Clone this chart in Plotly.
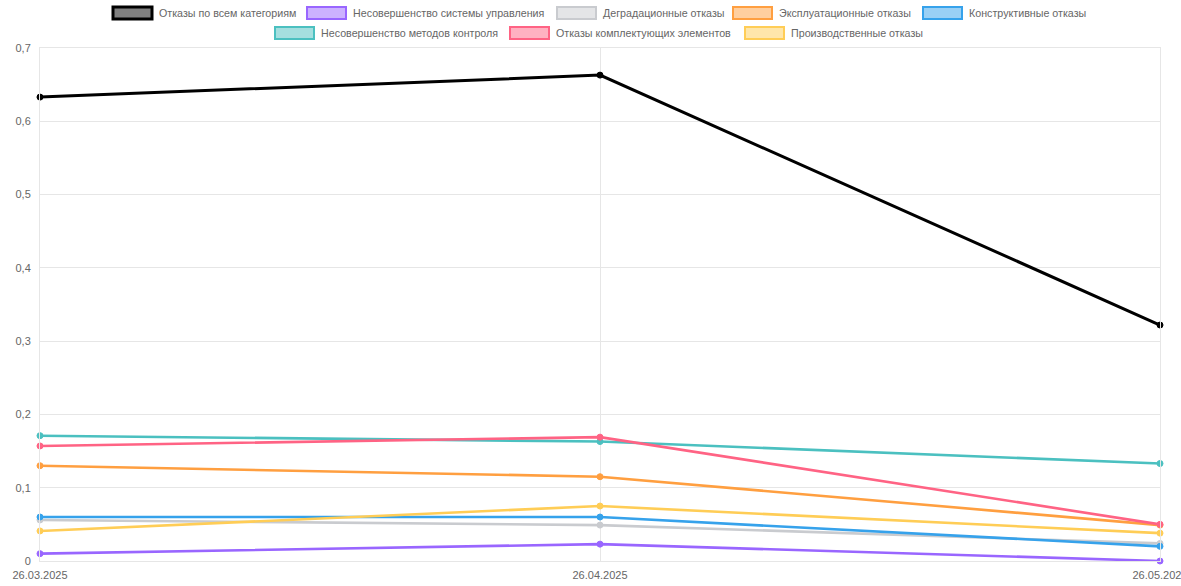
import plotly.graph_objects as go

dates = ["26.03.2025", "26.04.2025", "26.05.2025"]

series_names = [
    "Отказы по всем категориям",
    "Несовершенство системы управления",
    "Деградационные отказы",
    "Эксплуатационные отказы",
    "Конструктивные отказы",
    "Несовершенство методов контроля",
    "Отказы комплектующих элементов",
    "Производственные отказы",
]

all_categories = [0.633, 0.663, 0.322]
control_system = [0.010, 0.023, 0.000]
degradation = [0.056, 0.049, 0.024]
operational = [0.130, 0.115, 0.049]
design = [0.060, 0.060, 0.020]
control_methods = [0.171, 0.163, 0.133]
components = [0.157, 0.169, 0.050]
production = [0.041, 0.075, 0.038]

series_values = [all_categories, control_system, degradation, operational,
                 design, control_methods, components, production]

colors = [(0, 0, 0), (153, 102, 255), (201, 203, 207), (255, 159, 64),
          (54, 162, 235), (75, 192, 192), (255, 99, 132), (255, 205, 86)]

W, H = 1181, 586
L, R, T, B = 40, 21, 48, 25
PW, PH = W - L - R, H - T - B

def px_x(px):
    return (px - L) / PW

def px_y(py):
    return (H - B - py) / PH

fig = go.Figure()

# draw coloured series first, black total on top
order = list(range(1, len(series_names))) + [0]
for i in order:
    r, g, b = colors[i]
    col = f"rgb({r},{g},{b})"
    fig.add_trace(go.Scatter(
        x=dates, y=series_values[i], name=series_names[i],
        mode="lines+markers",
        line=dict(color=col, width=3 if i == 0 else 2.6),
        marker=dict(size=6, color=col, line=dict(color=col, width=1)),
        cliponaxis=False, showlegend=False,
    ))

# Chart.js-style legend: boxes + labels
legend_rows = [
    ([0, 1, 2, 3, 4], [113, 307, 557, 733, 923], 13),
    ([5, 6, 7], [275, 510, 745], 33),
]
shapes = []
annotations = []
for idxs, xs, yc in legend_rows:
    for i, bx in zip(idxs, xs):
        r, g, b = colors[i]
        if i == 0:
            fill = "rgba(128,128,128,1)"
            lw = 3
        else:
            fill = f"rgba({r},{g},{b},0.5)"
            lw = 2
        shapes.append(dict(
            type="rect", xref="paper", yref="paper",
            x0=px_x(bx), x1=px_x(bx + 39),
            y0=px_y(yc + 6), y1=px_y(yc - 6),
            fillcolor=fill, line=dict(color=f"rgb({r},{g},{b})", width=lw),
            layer="above",
        ))
        annotations.append(dict(
            xref="paper", yref="paper", x=px_x(bx + 44), y=px_y(yc),
            xanchor="left", yanchor="middle", text=series_names[i],
            showarrow=False, font=dict(size=10.7, color="#666666",
                                       family="Liberation Sans, Arial, sans-serif"),
        ))

fig.update_layout(
    width=W, height=H,
    margin=dict(l=L, r=R, t=T, b=B, autoexpand=False),
    paper_bgcolor="white", plot_bgcolor="white",
    separators=", ",
    font=dict(family="Liberation Sans, Arial, sans-serif", size=11, color="#666666"),
    shapes=shapes, annotations=annotations,
    showlegend=False,
)
fig.update_xaxes(
    type="category", range=[0, 2], automargin=False,
    showgrid=True, gridcolor="#e6e6e6", gridwidth=1,
    showline=True, linecolor="#e6e6e6", linewidth=1, mirror=True,
    zeroline=False,
    ticks="", tickfont=dict(size=11, color="#666666"),
    ticklabelstandoff=4,
)
fig.update_yaxes(
    range=[0, 0.7], dtick=0.1, tick0=0, automargin=False,
    showgrid=True, gridcolor="#e6e6e6", gridwidth=1,
    zeroline=True, zerolinecolor="#e6e6e6", zerolinewidth=1,
    showline=True, linecolor="#e6e6e6", linewidth=1, mirror=True,
    ticks="",
    tickfont=dict(size=11, color="#666666"),
    ticklabelstandoff=6,
)

fig.write_html("out.html")
